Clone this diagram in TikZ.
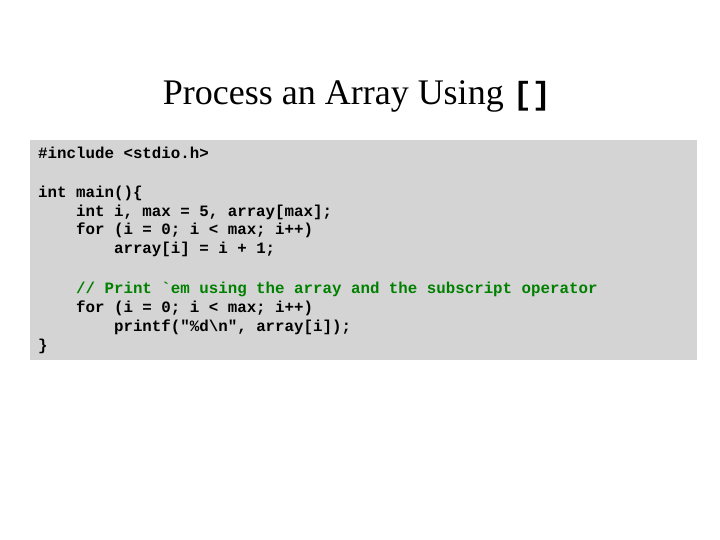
\documentclass[tikz,border=0pt]{standalone}
\usepackage{fontspec}
\setmainfont{Liberation Serif}
\setmonofont{Liberation Mono}
\definecolor{boxgray}{RGB}{212,212,212}
\definecolor{cgreen}{RGB}{0,128,0}
\begin{document}
\begin{tikzpicture}[x=1pt,y=-1pt,
  code/.style={anchor=base west,inner sep=0pt,font=\fontsize{15.8}{19}\ttfamily\bfseries}]
\useasboundingbox (0,0) rectangle (720,540);
\fill[boxgray] (30,140) rectangle (697,360);
\node[anchor=base,inner sep=0pt] (title) at (357,105) {\fontsize{36}{40}\selectfont Process an Array Using \texttt{\bfseries\fontsize{32}{36}\selectfont []}};
\node[code] (l1) at (38,159) {\#include <stdio.h>};
\node[code] (l2) at (38,197) {int main()\{};
\node[code] (l3) at (38,216) {\ \ \ \ int i, max = 5, array[max];};
\node[code] (l4) at (38,235) {\ \ \ \ for (i = 0; i < max; i++)};
\node[code] (l5) at (38,254) {\ \ \ \ \ \ \ \ array[i] = i + 1;};
\node[code,text=cgreen] (l6) at (38,293) {\ \ \ \ // Print `em using the array and the subscript operator};
\node[code] (l7) at (38,312) {\ \ \ \ for (i = 0; i < max; i++)};
\node[code] (l8) at (38,331) {\ \ \ \ \ \ \ \ printf("\%d\textbackslash n", array[i]);};
\node[code] (l9) at (38,350) {\}};
\end{tikzpicture}
\end{document}
